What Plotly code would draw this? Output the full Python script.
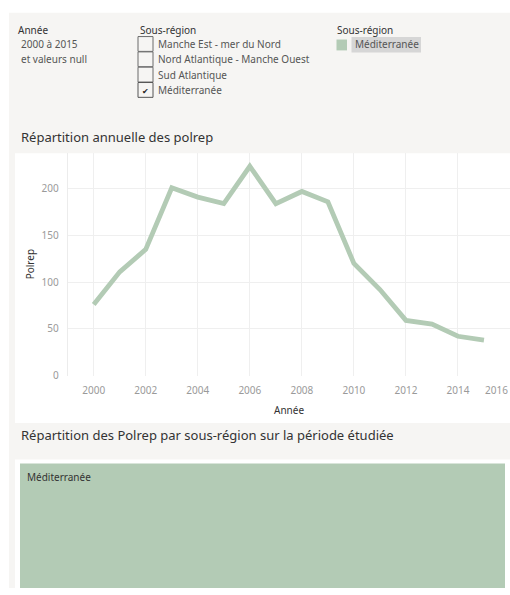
import plotly.graph_objects as go

# Annual POLREP counts for the Mediterranean sub-region
years = list(range(2000, 2016))
polrep = [76, 111, 135, 201, 191, 184, 224, 184, 197, 186, 120, 92, 59, 55, 42, 38]

sub_regions = ["Manche Est - mer du Nord", "Nord Atlantique - Manche Ouest",
               "Sud Atlantique", "Méditerranée"]
selected = [False, False, False, True]

# sub-regions shown in the treemap (only the filtered one)
tree_labels = ["Méditerranée"]
tree_values = [sum(polrep)]

W, H = 510, 595
FONT = "Noto Sans"
GREEN = "#b3cbb5"
BG = "#f6f5f3"
DARK = "#333333"
TICK = "#9a9a9a"


def fx(x):
    return x / W


def fy(y):
    return 1 - y / H


fig = go.Figure()

fig.add_trace(go.Scatter(
    x=years, y=polrep, mode="lines",
    line=dict(color=GREEN, width=4.8),
    hoverinfo="x+y", showlegend=False,
))

fig.add_trace(go.Treemap(
    labels=tree_labels, parents=[""] * len(tree_labels), values=tree_values,
    textinfo="none",
    marker=dict(colors=[GREEN], line=dict(width=0)),
    pathbar=dict(visible=False),
    tiling=dict(pad=0),
    domain=dict(x=[fx(20), fx(505)], y=[0, fy(469)]),
))

shapes = [
    # dashboard background and white panels
    dict(type="rect", xref="paper", yref="paper", x0=fx(9), x1=1, y0=0, y1=fy(13),
         fillcolor=BG, line=dict(width=0), layer="below"),
    dict(type="rect", xref="paper", yref="paper", x0=fx(15), x1=1, y0=fy(428), y1=fy(155),
         fillcolor="white", line=dict(width=0), layer="below"),
    dict(type="rect", xref="paper", yref="paper", x0=fx(15), x1=1, y0=0, y1=fy(465),
         fillcolor="white", line=dict(width=0), layer="below"),
    # colour legend swatch and highlighted label
    dict(type="rect", xref="paper", yref="paper", x0=fx(351.5), x1=fx(421), y0=fy(53), y1=fy(37.5),
         fillcolor="#d6d6d6", line=dict(width=0), layer="below"),
    dict(type="rect", xref="paper", yref="paper", x0=fx(336.5), x1=fx(347), y0=fy(51), y1=fy(40),
         fillcolor=GREEN, line=dict(width=0)),
]

annotations = [
    dict(text="Année", x=fx(16), y=fy(30), font=dict(size=10, color=DARK)),
    dict(text="2000 à 2015", x=fx(19), y=fy(45), font=dict(size=10, color="#555555")),
    dict(text="et valeurs null", x=fx(19), y=fy(60), font=dict(size=10, color="#555555")),
    dict(text="Sous-région", x=fx(138), y=fy(30), font=dict(size=10, color=DARK)),
    dict(text="Sous-région", x=fx(335), y=fy(30), font=dict(size=10, color=DARK)),
    dict(text=tree_labels[0], x=fx(353), y=fy(45), font=dict(size=10, color="#555555")),
    dict(text="Répartition annuelle des polrep", x=fx(19), y=fy(139),
         font=dict(size=13, color=DARK)),
    dict(text="Répartition des Polrep par sous-région sur la période étudiée", x=fx(19), y=fy(440.5),
         font=dict(size=13, color=DARK)),
    dict(text="Polrep", x=fx(30), y=fy(267.5), textangle=-90, xanchor="center",
         font=dict(size=10, color=DARK)),
    dict(text="Année", x=fx(289), y=fy(415), xanchor="center", font=dict(size=10, color=DARK)),
    dict(text="2016", xref="x", x=2016, y=fy(394.3), xanchor="right",
         font=dict(size=10, color=TICK)),
    # treemap tile label
    dict(text=tree_labels[0], x=fx(24.5), y=fy(483), font=dict(size=10, color=DARK)),
]

# checkbox list for the sub-region filter
for i, (name, on) in enumerate(zip(sub_regions, selected)):
    top = 37 + i * 15.5
    shapes.append(dict(type="rect", xref="paper", yref="paper",
                       x0=fx(138), x1=fx(153), y0=fy(top + 15), y1=fy(top),
                       fillcolor=BG, line=dict(color="#555555" if on else "#6a6a6a", width=1)))
    annotations.append(dict(text=name, x=fx(156), y=fy(top + 7.5),
                            font=dict(size=10, color="#555555")))
    if on:
        annotations.append(dict(text="✔", x=fx(145.5), y=fy(top + 8.5), xanchor="center",
                                font=dict(size=8, color="#222222")))

for a in annotations:
    a.setdefault("xref", "paper")
    a.setdefault("yref", "paper")
    a.setdefault("xanchor", "left")
    a.setdefault("yanchor", "middle")
    a["showarrow"] = False
    a["font"]["family"] = FONT

fig.update_layout(
    width=W, height=H,
    margin=dict(l=0, r=0, t=0, b=0),
    paper_bgcolor="white",
    plot_bgcolor="rgba(0,0,0,0)",
    font=dict(family=FONT, size=10, color=DARK),
    shapes=shapes,
    annotations=annotations,
    xaxis=dict(
        domain=[fx(67.7), 1.0], range=[1999, 2016],
        tickvals=list(range(2000, 2016, 2)),
        showgrid=True, gridcolor="#efefef", gridwidth=1,
        zeroline=False, showline=False,
        tickfont=dict(size=10, color=TICK),
        ticks="outside", ticklen=5, tickcolor="rgba(0,0,0,0)",
    ),
    yaxis=dict(
        domain=[fy(380), fy(155)], range=[0, 238],
        tickvals=[0, 50, 100, 150, 200],
        showgrid=True, gridcolor="#efefef", gridwidth=1,
        zeroline=False, showline=True, linecolor="#ececec", linewidth=1,
        tickfont=dict(size=10, color=TICK),
        ticks="outside", ticklen=6, tickcolor="rgba(0,0,0,0)",
    ),
)

fig.write_html("out.html")
